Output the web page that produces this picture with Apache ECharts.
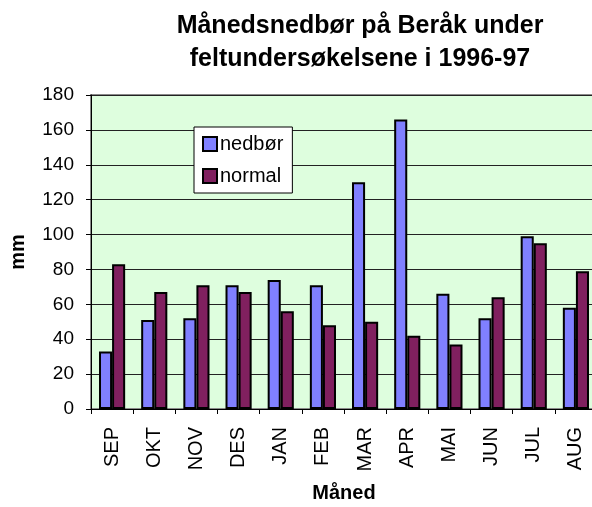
<!DOCTYPE html>
<html>
<head>
<meta charset="utf-8">
<script src="https://cdn.jsdelivr.net/npm/echarts@6/dist/echarts.min.js"></script>
<style>
  html, body { margin: 0; padding: 0; background: #fff; }
  #main { width: 592px; height: 507px; }
</style>
</head>
<body>
<div id="main"></div>
<script>
// data
var months = ['SEP', 'OKT', 'NOV', 'DES', 'JAN', 'FEB', 'MAR', 'APR', 'MAI', 'JUN', 'JUL', 'AUG'];
var nedbor = [33, 51, 52, 71, 74, 71, 130, 166, 66, 52, 99, 58];
var normal = [83, 67, 71, 67, 56, 48, 50, 42, 37, 64, 95, 79];

var FONT = '"Liberation Sans", Arial, sans-serif';

var myChart = echarts.init(document.getElementById('main'));
myChart.setOption({
  animation: false,
  title: {
    text: 'Månedsnedbør på Beråk under\nfeltundersøkelsene i 1996-97',
    left: 355,
    top: 5,
    textAlign: 'center',
    textStyle: { fontFamily: FONT, fontSize: 25, fontWeight: 'bold', color: '#000', lineHeight: 33 }
  },
  legend: {
    orient: 'vertical',
    left: 194,
    top: 127,
    backgroundColor: '#fff',
    borderColor: '#000',
    borderWidth: 1,
    borderRadius: 0,
    padding: [7, 9, 7, 8],
    itemWidth: 14,
    itemHeight: 14,
    itemGap: 12,
    icon: 'rect',
    textStyle: { fontFamily: FONT, fontSize: 20, color: '#000', padding: [0, 0, 0, -2] },
    data: ['nedbør', 'normal']
  },
  grid: {
    left: 91,
    top: 95,
    right: -5,
    bottom: 98,
    outerBoundsMode: 'none',
    containLabel: false,
    show: true,
    backgroundColor: '#DEFEDE',
    borderColor: '#8a8a8a',
    borderWidth: 2
  },
  xAxis: {
    type: 'category',
    data: months,
    name: 'Måned',
    nameLocation: 'middle',
    nameGap: 74,
    nameTextStyle: { fontFamily: FONT, fontSize: 20, fontWeight: 'bold', color: '#000' },
    axisLine: { lineStyle: { color: '#000', width: 1 } },
    axisTick: { show: true, length: 5, inside: false, lineStyle: { color: '#000' } },
    axisLabel: {
      interval: 0,
      rotate: 90,
      margin: 18,
      fontFamily: FONT,
      fontSize: 20,
      color: '#000'
    }
  },
  yAxis: {
    type: 'value',
    min: 0,
    max: 180,
    interval: 20,
    name: 'mm',
    nameLocation: 'middle',
    nameGap: 63,
    nameRotate: 90,
    nameTextStyle: { fontFamily: FONT, fontSize: 20, fontWeight: 'bold', color: '#000' },
    axisLine: { show: true, lineStyle: { color: '#000', width: 1 } },
    axisTick: { show: true, length: 5, inside: false, lineStyle: { color: '#000' } },
    axisLabel: { margin: 17, fontFamily: FONT, fontSize: 19, color: '#000' },
    splitLine: { show: true, lineStyle: { color: '#222', width: 1 } }
  },
  series: [
    {
      name: 'nedbør',
      type: 'bar',
      data: nedbor,
      barGap: '0%',
      barCategoryGap: '38%',
      itemStyle: { color: '#8080FF', borderColor: '#000', borderWidth: 2 }
    },
    {
      name: 'normal',
      type: 'bar',
      data: normal,
      barGap: '0%',
      barCategoryGap: '38%',
      itemStyle: { color: '#80205F', borderColor: '#000', borderWidth: 2 }
    }
  ]
});
</script>
</body>
</html>
